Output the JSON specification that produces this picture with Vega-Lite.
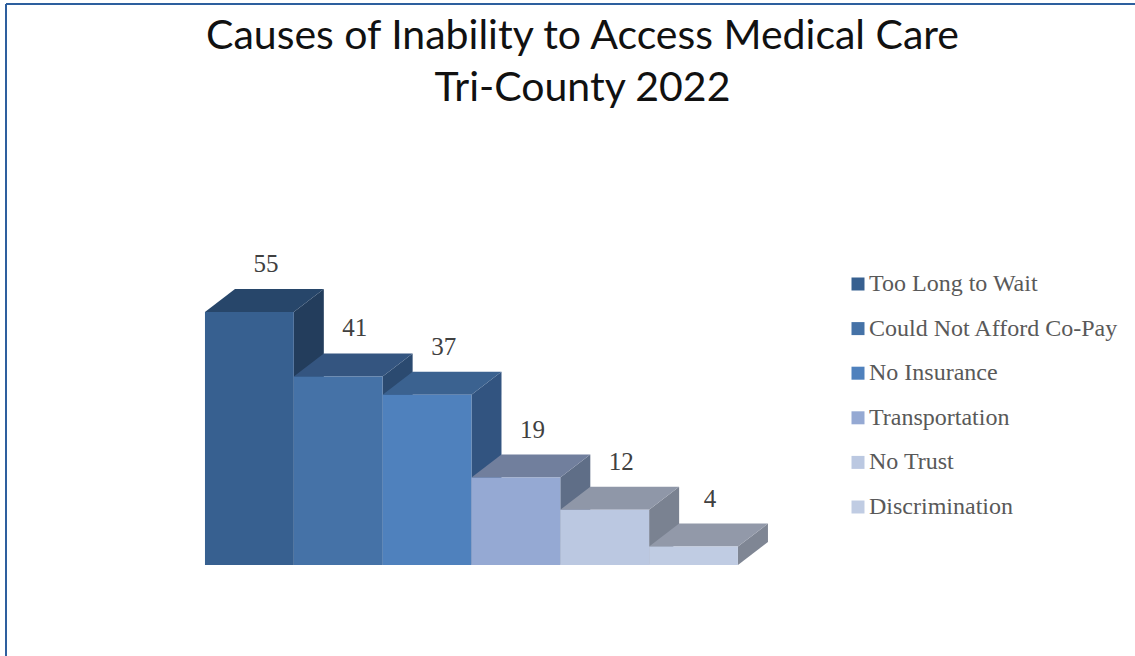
{
  "$schema": "https://vega.github.io/schema/vega-lite/v6.json",
  "width": 1129,
  "height": 652,
  "autosize": "none",
  "padding": {"left": 6, "top": 4, "right": 0, "bottom": 0},
  "background": "white",
  "config": {"view": {"stroke": null}},
  "title": {
    "text": ["Causes of Inability to Access Medical Care", "Tri-County 2022"],
    "font": "Lato",
    "fontSize": 41,
    "fontWeight": "normal",
    "color": "#111111",
    "anchor": "middle",
    "frame": "group",
    "baseline": "top",
    "lineHeight": 52,
    "offset": 0,
    "dx": 12,
    "dy": 107
  },
  "data": {"values": [
    {"cause": "Too Long to Wait", "count": 55},
    {"cause": "Could Not Afford Co-Pay", "count": 41},
    {"cause": "No Insurance", "count": 37},
    {"cause": "Transportation", "count": 19},
    {"cause": "No Trust", "count": 12},
    {"cause": "Discrimination", "count": 4}
  ]},
  "transform": [
    {"window": [{"op": "row_number", "as": "pos"}]},
    {"calculate": "datum.pos - 1", "as": "left"},
    {"calculate": "datum.pos", "as": "right"},
    {"calculate": "0", "as": "base"}
  ],
  "layer": [
    {
      "transform": [
        {"calculate": "[0, 1]", "as": "corner"},
        {"flatten": ["corner"]},
        {"calculate": "datum.right + datum.corner * 0.338", "as": "sx"},
        {"calculate": "datum.corner * 5", "as": "sy"},
        {"calculate": "datum.count + datum.corner * 5", "as": "sy2"}
      ],
      "mark": {"type": "area", "orient": "vertical", "interpolate": "linear"},
      "encoding": {
        "x": {"field": "sx", "type": "quantitative", "scale": {"domain": [-2.24, 10.47], "nice": false, "zero": false}, "axis": null},
        "y": {"field": "sy", "type": "quantitative", "scale": {"domain": [-19.78, 121.96], "nice": false, "zero": false}, "axis": null},
        "y2": {"field": "sy2"},
        "color": {"field": "cause", "type": "nominal", "legend": null, "scale": {
          "domain": ["Too Long to Wait", "Could Not Afford Co-Pay", "No Insurance", "Transportation", "No Trust", "Discrimination"],
          "range": ["#233D5C", "#2B4A70", "#325480", "#5F6E87", "#7A8291", "#7F8694"]}}
      }
    },
    {
      "transform": [
        {"calculate": "[0, 1]", "as": "corner"},
        {"flatten": ["corner"]},
        {"calculate": "datum.left + datum.corner * 0.338", "as": "tx"},
        {"calculate": "datum.right + datum.corner * 0.338", "as": "tx2"},
        {"calculate": "datum.count + datum.corner * 5", "as": "ty"}
      ],
      "mark": {"type": "area", "orient": "horizontal", "interpolate": "linear"},
      "encoding": {
        "y": {"field": "ty", "type": "quantitative", "scale": {"domain": [-19.78, 121.96], "nice": false, "zero": false}, "axis": null},
        "x": {"field": "tx", "type": "quantitative", "scale": {"domain": [-2.24, 10.47], "nice": false, "zero": false}, "axis": null},
        "x2": {"field": "tx2"},
        "color": {"field": "cause", "type": "nominal", "legend": null, "scale": {
          "domain": ["Too Long to Wait", "Could Not Afford Co-Pay", "No Insurance", "Transportation", "No Trust", "Discrimination"],
          "range": ["#27466A", "#345580", "#3B6290", "#717F9D", "#8F97A8", "#9299A9"]}}
      }
    },
    {
      "mark": {"type": "rect"},
      "encoding": {
        "x": {"field": "left", "type": "quantitative", "scale": {"domain": [-2.24, 10.47], "nice": false, "zero": false}, "axis": null},
        "x2": {"field": "right"},
        "y": {"field": "count", "type": "quantitative", "scale": {"domain": [-19.78, 121.96], "nice": false, "zero": false}, "axis": null},
        "y2": {"field": "base"},
        "color": {
          "field": "cause", "type": "nominal",
          "scale": {
            "domain": ["Too Long to Wait", "Could Not Afford Co-Pay", "No Insurance", "Transportation", "No Trust", "Discrimination"],
            "range": ["#376090", "#4572A7", "#4F81BD", "#95A9D3", "#BBC8E1", "#C0CCE3"]
          },
          "legend": {
            "title": null,
            "orient": "none",
            "legendX": 840,
            "legendY": 268,
            "symbolType": "square",
            "symbolSize": 169,
            "symbolStrokeWidth": 0,
            "labelFont": "Liberation Serif",
            "labelFontSize": 24,
            "labelColor": "#595959",
            "labelLimit": 300,
            "labelOffset": -1,
            "rowPadding": 20.6,
            "padding": 0
          }
        }
      }
    },
    {
      "mark": {"type": "text", "font": "Liberation Serif", "fontSize": 25, "color": "#404040", "dx": 61, "dy": -48, "baseline": "middle", "align": "center"},
      "encoding": {
        "x": {"field": "left", "type": "quantitative", "scale": {"domain": [-2.24, 10.47], "nice": false, "zero": false}, "axis": null},
        "y": {"field": "count", "type": "quantitative", "scale": {"domain": [-19.78, 121.96], "nice": false, "zero": false}, "axis": null},
        "text": {"field": "count", "type": "quantitative"}
      }
    },
    {
      "mark": {"type": "rule", "color": "#2E5F9E", "strokeWidth": 2},
      "encoding": {"x": {"datum": -2.24, "type": "quantitative", "scale": {"domain": [-2.24, 10.47], "nice": false, "zero": false}, "axis": null}}
    },
    {
      "mark": {"type": "rule", "color": "#2E5F9E", "strokeWidth": 1.5},
      "encoding": {"y": {"datum": 121.96, "type": "quantitative", "scale": {"domain": [-19.78, 121.96], "nice": false, "zero": false}, "axis": null}}
    }
  ],
  "resolve": {"scale": {"color": "independent"}}
}
